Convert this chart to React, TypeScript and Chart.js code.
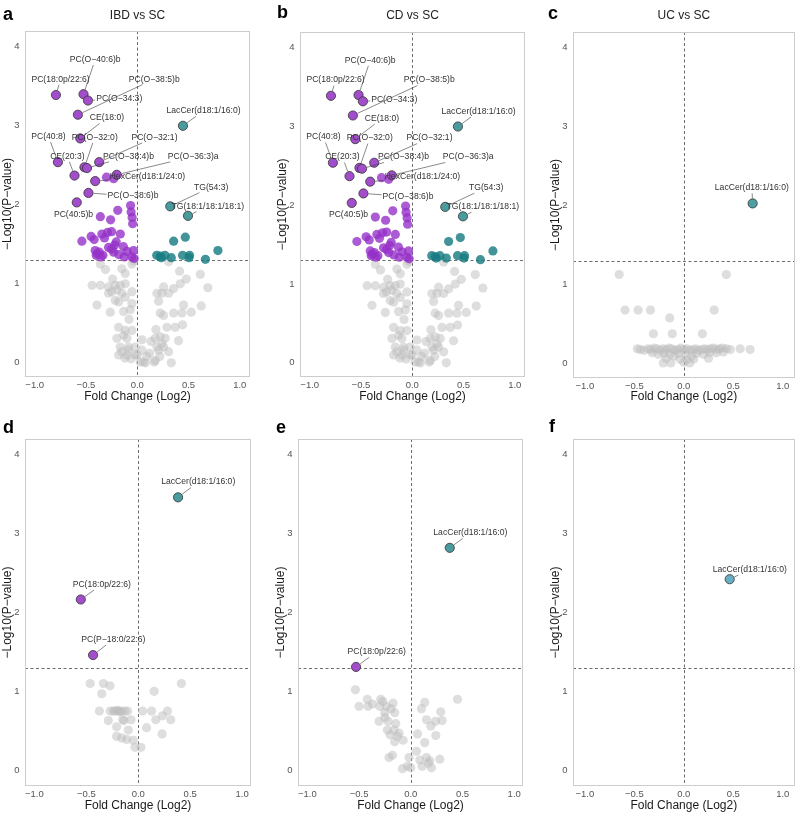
import React, { useEffect, useRef } from "react";
import { Chart, registerables } from "chart.js";
Chart.register(...registerables);

type Pt = [number, number];

const X_TICKS = [-1, -0.5, 0, 0.5, 1];
const Y_TICKS = [0, 1, 2, 3, 4];
const P_LINE = 1.3;
const FC_LINE = 0;

// ---------- IBD vs SC (panel a) ----------
const ibdGrey: Pt[] = [
  [-0.36, 1.25], [-0.31, 1.18], [-0.15, 1.19], [-0.117, 1.13], [-0.052, 1.25], [-0.036, 1.29], [-0.24, 1.06],
  [-0.44, 0.98], [-0.36, 0.98], [-0.28, 0.96], [-0.215, 0.98], [-0.166, 0.98], [-0.117, 1.0], [-0.198, 0.92],
  [-0.28, 0.88], [-0.15, 0.88], [-0.052, 0.9], [-0.215, 0.79], [-0.182, 0.77], [-0.117, 0.83], [-0.052, 0.75],
  [-0.393, 0.73], [-0.263, 0.64], [-0.133, 0.65], [-0.068, 0.67], [-0.25, 0.9], [-0.08, 0.55],
  [0.306, 1.28], [0.413, 1.16], [0.478, 1.06], [0.615, 1.12], [0.42, 1.0], [0.355, 0.94], [0.257, 0.96],
  [0.192, 0.88], [0.241, 0.88], [0.306, 0.88], [0.208, 0.78], [0.689, 0.95], [0.452, 0.73], [0.355, 0.63],
  [0.224, 0.63], [0.257, 0.6], [0.436, 0.63], [0.527, 0.64], [0.624, 0.72],
  [-0.182, 0.45], [-0.117, 0.41], [-0.052, 0.41], [-0.133, 0.35], [-0.198, 0.31], [-0.101, 0.31],
  [-0.166, 0.2], [-0.085, 0.2], [-0.02, 0.2], [0.046, 0.29], [-0.182, 0.1], [-0.101, 0.1], [-0.02, 0.1],
  [0.046, 0.16], [0.094, 0.08], [0.029, 0.01], [0.182, 0.42], [0.371, 0.45], [0.442, 0.48], [0.29, 0.45],
  [0.176, 0.31], [0.224, 0.33], [0.273, 0.31], [0.192, 0.2], [0.241, 0.24], [0.208, 0.16], [0.403, 0.28],
  [0.306, 0.14], [0.176, 0.03], [0.332, 0.0], [-0.085, 0.16], [0.0, 0.1], [0.06, 0.01], [0.166, 0.01],
  [0.257, 0.2], [-0.15, 0.14], [-0.06, 0.05], [0.12, 0.12], [-0.12, 0.06], [0.22, 0.08], [0.135, 0.27],
  [0.08, 0.0],
];
const ibdDown: Pt[] = [
  [-0.3, 2.35], [-0.23, 2.33], [-0.36, 1.85], [-0.26, 1.81], [-0.19, 1.93], [-0.065, 1.99], [-0.06, 1.91],
  [-0.05, 1.84], [-0.045, 1.76], [-0.54, 1.54], [-0.45, 1.6], [-0.42, 1.56], [-0.345, 1.63], [-0.29, 1.65],
  [-0.25, 1.66], [-0.165, 1.63], [-0.32, 1.58], [-0.205, 1.53], [-0.22, 1.49], [-0.135, 1.47], [-0.41, 1.42],
  [-0.37, 1.4], [-0.4, 1.36], [-0.335, 1.36], [-0.25, 1.44], [-0.23, 1.4], [-0.127, 1.34], [-0.036, 1.42],
  [-0.052, 1.34], [-0.355, 1.34], [-0.1, 1.41], [-0.39, 1.38], [-0.03, 1.32], [-0.18, 1.37], [-0.28, 1.46],
];
const ibdUp: Pt[] = [
  [0.355, 1.54], [0.469, 1.59], [0.19, 1.36], [0.224, 1.35], [0.235, 1.33], [0.27, 1.36], [0.332, 1.33],
  [0.442, 1.36], [0.51, 1.36], [0.505, 1.33], [0.665, 1.31], [0.787, 1.42],
];
const ibdLabelNames: string[] = [
  "PC(18:0p/22:6)", "PC(O−40:6)b", "PC(O−38:5)b", "PC(O−34:3)", "LacCer(d18:1/16:0)", "CE(18:0)",
  "PC(40:8)", "PC(O−32:0)", "PC(O−32:1)", "CE(20:3)", "PC(O−38:4)b", "PC(O−36:3)a",
  "HexCer(d18:1/24:0)", "PC(O−38:6)b", "PC(40:5)b", "TG(54:3)", "TG(18:1/18:1/18:1)",
];
const ibdLabelDir: string[] = [
  "down", "down", "down", "down", "up", "down", "down", "down", "down", "down", "down", "down",
  "down", "down", "down", "up", "up",
];
const ibdLabelPoints: Pt[] = [
  [-0.793, 3.39], [-0.524, 3.4], [-0.579, 3.14], [-0.481, 3.32], [0.446, 3.0], [-0.556, 2.84],
  [-0.774, 2.54], [-0.515, 2.475], [-0.371, 2.54], [-0.612, 2.37], [-0.49, 2.465], [-0.2, 2.38],
  [-0.41, 2.3], [-0.476, 2.15], [-0.59, 2.03], [0.322, 1.98], [0.495, 1.86],
];
const ibdLabelText: Pt[] = [
  [-0.748, 3.59], [-0.41, 3.84], [0.166, 3.59], [-0.176, 3.34], [0.647, 3.19], [-0.296, 3.1],
  [-0.866, 2.866], [-0.415, 2.853], [0.168, 2.853], [-0.682, 2.613], [-0.085, 2.613], [0.546, 2.613],
  [0.099, 2.361], [-0.041, 2.11], [-0.622, 1.878], [0.721, 2.223], [0.689, 1.983],
];

// ---------- CD vs SC (panel b): same values ----------
const cdGrey: Pt[] = ibdGrey;
const cdDown: Pt[] = ibdDown;
const cdUp: Pt[] = ibdUp;
const cdLabelNames = ibdLabelNames;
const cdLabelDir = ibdLabelDir;
const cdLabelPoints = ibdLabelPoints;
const cdLabelText = ibdLabelText;

// ---------- UC vs SC (panel c) ----------
const ucGrey: Pt[] = [
  [-0.653, 1.13], [0.43, 1.13], [-0.594, 0.68], [-0.462, 0.68], [-0.337, 0.68], [0.307, 0.68], [-0.142, 0.58],
  [-0.307, 0.38], [-0.116, 0.38], [0.188, 0.38], [-0.208, 0.01], [-0.132, 0.01],
  [-0.47, 0.19], [-0.44, 0.18], [-0.4, 0.17], [-0.36, 0.19], [-0.33, 0.18], [-0.3, 0.2], [-0.27, 0.19],
  [-0.24, 0.17], [-0.21, 0.19], [-0.18, 0.18], [-0.15, 0.2], [-0.12, 0.19], [-0.09, 0.17], [-0.06, 0.18],
  [-0.03, 0.2], [0.0, 0.18], [0.03, 0.19], [0.06, 0.17], [0.09, 0.18], [0.12, 0.19], [0.15, 0.17],
  [0.18, 0.18], [0.21, 0.19], [0.24, 0.18], [0.27, 0.19], [0.3, 0.2], [0.33, 0.18], [0.36, 0.19],
  [0.39, 0.2], [0.43, 0.19], [0.47, 0.18], [0.57, 0.19], [0.67, 0.18],
  [-0.32, 0.14], [-0.26, 0.12], [-0.2, 0.13], [-0.14, 0.12], [-0.1, 0.1], [-0.05, 0.13], [0.02, 0.12],
  [0.08, 0.1], [0.13, 0.13], [0.2, 0.12], [0.26, 0.14], [0.33, 0.14], [0.4, 0.15], [-0.04, 0.06],
  [0.03, 0.05], [0.1, 0.06], [0.25, 0.07], [-0.18, 0.07], [0.0, 0.02], [0.06, 0.01],
];
const ucLabelNames: string[] = ["LacCer(d18:1/16:0)"];
const ucLabelDir: string[] = ["up"];
const ucLabelPoints: Pt[] = [[0.696, 2.03]];
const ucLabelText: Pt[] = [[0.688, 2.228]];

// ---------- panel d ----------
const dGrey: Pt[] = [
  [-0.463, 1.1], [-0.335, 1.1], [-0.272, 1.07], [-0.351, 0.97], [0.415, 1.1], [0.153, 1.0], [-0.374, 0.75],
  [-0.27, 0.75], [-0.24, 0.75], [-0.224, 0.75], [-0.2, 0.76], [-0.19, 0.75], [-0.175, 0.74], [-0.16, 0.75],
  [-0.128, 0.75], [-0.102, 0.75], [0.042, 0.75], [0.128, 0.75], [0.281, 0.75], [-0.288, 0.63], [-0.208, 0.55],
  [-0.15, 0.64], [-0.137, 0.63], [-0.07, 0.64], [-0.096, 0.51], [0.169, 0.64], [0.233, 0.69], [0.313, 0.64],
  [0.08, 0.54], [0.23, 0.46], [-0.208, 0.43], [-0.16, 0.41], [-0.112, 0.39], [-0.048, 0.38], [-0.032, 0.29],
  [0.026, 0.29],
];
const dLabelNames: string[] = ["LacCer(d18:1/16:0)", "PC(18:0p/22:6)", "PC(P−18:0/22:6)"];
const dLabelDir: string[] = ["up", "down", "down"];
const dLabelPoints: Pt[] = [[0.383, 3.46], [-0.553, 2.165], [-0.435, 1.46]];
const dLabelText: Pt[] = [[0.577, 3.654], [-0.351, 2.354], [-0.24, 1.658]];

// ---------- panel e ----------
const eGrey: Pt[] = [
  [-0.535, 1.02], [-0.5, 0.81], [-0.42, 0.9], [-0.413, 0.81], [-0.37, 0.84], [-0.29, 0.9], [-0.27, 0.87],
  [-0.3, 0.81], [-0.235, 0.81], [-0.171, 0.85], [-0.252, 0.73], [-0.155, 0.73], [-0.306, 0.62], [-0.219, 0.62],
  [-0.145, 0.59], [-0.226, 0.51], [-0.161, 0.51], [-0.113, 0.47], [-0.155, 0.36], [-0.074, 0.38], [-0.2, 0.45],
  [-0.13, 0.43], [-0.25, 0.67], [-0.19, 0.78], [0.135, 0.86], [0.103, 0.78], [0.152, 0.64], [0.239, 0.62],
  [0.29, 0.74], [0.303, 0.63], [0.194, 0.56], [0.242, 0.44], [0.065, 0.46], [0.135, 0.35], [0.452, 0.9],
  [-0.21, 0.16], [-0.177, 0.19], [-0.081, 0.02], [-0.032, 0.05], [-0.016, 0.16], [0.055, 0.24], [0.087, 0.13],
  [0.11, 0.05], [0.152, 0.16], [0.184, 0.12], [0.2, 0.03], [0.281, 0.14], [0.0, 0.03], [0.17, 0.09],
];
const eLabelNames: string[] = ["LacCer(d18:1/16:0)", "PC(18:0p/22:6)"];
const eLabelDir: string[] = ["up", "down"];
const eLabelPoints: Pt[] = [[0.377, 2.82], [-0.529, 1.31]];
const eLabelText: Pt[] = [[0.576, 3.008], [-0.329, 1.502]];

// ---------- panel f ----------
const fGrey: Pt[] = [];
const fLabelNames: string[] = ["LacCer(d18:1/16:0)"];
const fLabelDir: string[] = ["up2"];
const fLabelPoints: Pt[] = [[0.464, 2.422]];
const fLabelText: Pt[] = [[0.667, 2.544]];

const FONT = '"Liberation Sans", Arial, Helvetica, sans-serif';
const GREY = "rgba(190,190,190,0.5)";
const PURPLE = "rgba(150,50,200,0.8)";
const TEAL = "rgba(25,125,130,0.82)";
const PURPLE_LAB = "#a24dcc";
const TEAL_LAB = "#4a9b9e";
const BLUE_LAB = "#6aaec4";

type Panel = {
  key: string; title: string; left: number; top: number; w: number; h: number;
  area: { l: number; t: number; r: number; b: number };
  xr: [number, number]; yr: [number, number];
  letterX: number; letterY: number; titleY: number;
  grey: Pt[]; down: Pt[]; up: Pt[];
  names: string[]; dir: string[]; pts: Pt[]; txt: Pt[]; upColor: string;
};

const panels: Panel[] = [
  { key: "a", title: "IBD vs SC", left: 0, top: 0, w: 270, h: 407, area: { l: 25, t: 31, r: 250, b: 377 },
    xr: [-1.095, 1.1], yr: [-0.18, 4.2], letterX: 3, letterY: 20, titleY: 18.5,
    grey: ibdGrey, down: ibdDown, up: ibdUp, names: ibdLabelNames, dir: ibdLabelDir, pts: ibdLabelPoints, txt: ibdLabelText, upColor: TEAL_LAB },
  { key: "b", title: "CD vs SC", left: 275, top: 0, w: 270, h: 407, area: { l: 25, t: 32, r: 250, b: 377 },
    xr: [-1.095, 1.1], yr: [-0.18, 4.2], letterX: 2, letterY: 17.5, titleY: 18.5,
    grey: cdGrey, down: cdDown, up: cdUp, names: cdLabelNames, dir: cdLabelDir, pts: cdLabelPoints, txt: cdLabelText, upColor: TEAL_LAB },
  { key: "c", title: "UC vs SC", left: 548, top: 0, w: 252, h: 407, area: { l: 25, t: 32, r: 251, b: 378 },
    xr: [-1.12, 1.12], yr: [-0.18, 4.2], letterX: 0, letterY: 18.5, titleY: 18.5,
    grey: ucGrey, down: [], up: [], names: ucLabelNames, dir: ucLabelDir, pts: ucLabelPoints, txt: ucLabelText, upColor: "#4f9ea2" },
  { key: "d", title: "", left: 0, top: 407, w: 270, h: 407, area: { l: 25, t: 32, r: 251, b: 379 },
    xr: [-1.09, 1.085], yr: [-0.2, 4.2], letterX: 3, letterY: 26, titleY: 0,
    grey: dGrey, down: [], up: [], names: dLabelNames, dir: dLabelDir, pts: dLabelPoints, txt: dLabelText, upColor: TEAL_LAB },
  { key: "e", title: "", left: 273, top: 407, w: 270, h: 407, area: { l: 25, t: 32, r: 250, b: 379 },
    xr: [-1.09, 1.085], yr: [-0.2, 4.2], letterX: 3, letterY: 26, titleY: 0,
    grey: eGrey, down: [], up: [], names: eLabelNames, dir: eLabelDir, pts: eLabelPoints, txt: eLabelText, upColor: TEAL_LAB },
  { key: "f", title: "", left: 548, top: 407, w: 252, h: 407, area: { l: 25, t: 32, r: 251, b: 379 },
    xr: [-1.12, 1.12], yr: [-0.2, 4.2], letterX: 1, letterY: 25, titleY: 0,
    grey: fGrey, down: [], up: [], names: fLabelNames, dir: fLabelDir, pts: fLabelPoints, txt: fLabelText, upColor: BLUE_LAB },
];

const fmtX = (v: number) => (v < 0 ? "\u2212" : "") + Math.abs(v).toFixed(1);

function decor(p: Panel) {
  return {
    id: "decor_" + p.key,
    beforeDatasetsDraw(chart: any) {
      const { ctx, chartArea: a, scales } = chart;
      const xs = scales.x, ys = scales.y;
      ctx.save();
      ctx.strokeStyle = "#5c5c5c";
      ctx.lineWidth = 0.9;
      ctx.setLineDash([3, 2.5]);
      const x0 = Math.round(xs.getPixelForValue(FC_LINE)) + 0.5;
      ctx.beginPath(); ctx.moveTo(x0, a.top); ctx.lineTo(x0, a.bottom); ctx.stroke();
      const y0 = Math.round(ys.getPixelForValue(P_LINE)) + 0.5;
      ctx.beginPath(); ctx.moveTo(a.left, y0); ctx.lineTo(a.right, y0); ctx.stroke();
      ctx.restore();
    },
    afterDraw(chart: any) {
      const { ctx, chartArea: a, scales } = chart;
      const xs = scales.x, ys = scales.y;
      ctx.save();
      // panel border
      ctx.strokeStyle = "#cdcdcd";
      ctx.lineWidth = 1;
      ctx.strokeRect(Math.round(a.left) + 0.5, Math.round(a.top) + 0.5, Math.round(a.right - a.left) - 1, Math.round(a.bottom - a.top) - 1);
      // labels
      ctx.font = `8.6px ${FONT}`;
      ctx.textAlign = "center";
      ctx.textBaseline = "middle";
      const r = 4.6;
      p.names.forEach((name, i) => {
        const px = xs.getPixelForValue(p.pts[i][0]);
        const py = ys.getPixelForValue(p.pts[i][1]);
        const lx = xs.getPixelForValue(p.txt[i][0]);
        const ly = ys.getPixelForValue(p.txt[i][1]);
        const hw = ctx.measureText(name).width / 2 + 1;
        const hh = 5.5;
        const dx = px - lx, dy = py - ly;
        let t = 1;
        if (dx !== 0) t = Math.min(t, hw / Math.abs(dx));
        if (dy !== 0) t = Math.min(t, hh / Math.abs(dy));
        const sx = lx + dx * t, sy = ly + dy * t;
        const len = Math.hypot(px - sx, py - sy);
        if (t < 1 && len > r + 2.5) {
          const ex = px - ((px - sx) / len) * (r + 0.5);
          const ey = py - ((py - sy) / len) * (r + 0.5);
          ctx.strokeStyle = "#3a3a3a";
          ctx.lineWidth = 0.6;
          ctx.beginPath(); ctx.moveTo(sx, sy); ctx.lineTo(ex, ey); ctx.stroke();
        }
        ctx.fillStyle = "#333333";
        ctx.fillText(name, lx, ly);
      });
      // title
      if (p.title) {
        ctx.fillStyle = "#222222";
        ctx.font = `12px ${FONT}`;
        ctx.textAlign = "center";
        ctx.textBaseline = "alphabetic";
        ctx.fillText(p.title, (a.left + a.right) / 2, p.titleY);
      }
      // letter
      ctx.fillStyle = "#000000";
      ctx.font = `bold 18px ${FONT}`;
      ctx.textAlign = "left";
      ctx.textBaseline = "alphabetic";
      ctx.fillText(p.key, p.letterX, p.letterY);
      ctx.restore();
    },
  };
}

function PanelChart({ p }: { p: Panel }) {
  const ref = useRef<HTMLCanvasElement>(null);
  useEffect(() => {
    const canvas = ref.current;
    if (!canvas) return;
    const labDown = p.pts.filter((_, i) => p.dir[i] === "down").map(([x, y]) => ({ x, y }));
    const labUp = p.pts.filter((_, i) => p.dir[i] !== "down").map(([x, y]) => ({ x, y }));
    const base = { pointRadius: 4.6, pointHoverRadius: 4.6, showLine: false };
    const chart = new Chart(canvas, {
      type: "scatter",
      data: {
        datasets: [
          { ...base, label: "labeled down", data: labDown, backgroundColor: PURPLE_LAB, borderColor: "#333", pointBorderWidth: 0.8, order: 1 },
          { ...base, label: "labeled up", data: labUp, backgroundColor: p.upColor, borderColor: "#333", pointBorderWidth: 0.8, order: 2 },
          { ...base, label: "down", data: p.down.map(([x, y]) => ({ x, y })), backgroundColor: PURPLE, borderWidth: 0, pointBorderWidth: 0, order: 3 },
          { ...base, label: "up", data: p.up.map(([x, y]) => ({ x, y })), backgroundColor: TEAL, borderWidth: 0, pointBorderWidth: 0, order: 4 },
          { ...base, label: "ns", data: p.grey.map(([x, y]) => ({ x, y })), backgroundColor: GREY, borderWidth: 0, pointBorderWidth: 0, order: 5 },
        ],
      },
      options: {
        responsive: false,
        animation: false,
        devicePixelRatio: 1,
        events: [],
        layout: { padding: { left: 0, top: p.area.t, right: p.w - p.area.r, bottom: 0 } },
        plugins: { legend: { display: false }, tooltip: { enabled: false }, title: { display: false } },
        scales: {
          x: {
            type: "linear", min: p.xr[0], max: p.xr[1],
            grid: { display: false, drawTicks: false },
            border: { display: false },
            afterBuildTicks: (s: any) => { s.ticks = X_TICKS.map((v) => ({ value: v })); },
            afterFit: (s: any) => { s.height = p.h - p.area.b; },
            ticks: { padding: 3, color: "#555555", font: { family: FONT, size: 9.5 }, maxRotation: 0, autoSkip: false, callback: (v: any) => fmtX(Number(v)) },
            title: { display: true, text: "Fold Change (Log2)", color: "#1a1a1a", font: { family: FONT, size: 12 }, padding: { top: 0, bottom: p.top === 0 ? 3 : 1 } },
          },
          y: {
            type: "linear", min: p.yr[0], max: p.yr[1],
            grid: { display: false, drawTicks: false },
            border: { display: false },
            afterBuildTicks: (s: any) => { s.ticks = Y_TICKS.map((v) => ({ value: v })); },
            afterFit: (s: any) => { s.width = p.area.l; },
            ticks: { padding: 5.5, color: "#555555", font: { family: FONT, size: 9.5 }, autoSkip: false, callback: (v: any) => String(v) },
            title: { display: true, text: "\u2212Log10(P\u2212value)", color: "#1a1a1a", font: { family: FONT, size: 12 }, padding: 0 },
          },
        },
      },
      plugins: [decor(p)],
    } as any);
    return () => chart.destroy();
  }, [p]);
  return (
    <canvas
      ref={ref}
      width={p.w}
      height={p.h}
      style={{ position: "absolute", left: p.left, top: p.top, width: p.w, height: p.h }}
    />
  );
}

export default function App() {
  return (
    <div style={{ position: "absolute", left: 0, top: 0, width: 800, height: 814, background: "#ffffff", overflow: "hidden" }}>
      {panels.map((p) => (
        <PanelChart key={p.key} p={p} />
      ))}
    </div>
  );
}
